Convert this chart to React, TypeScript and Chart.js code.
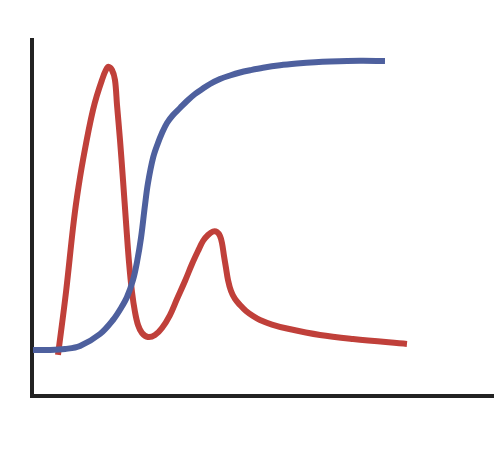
import React, { useEffect, useRef } from "react";
import { Chart, registerables } from "chart.js";

Chart.register(...registerables);

const blueX = [0.22, 3.9, 7.16, 10.41, 14.75, 17.57, 19.31, 20.61, 21.91, 22.78, 23.64, 24.51, 25.16, 26.25, 27.33, 28.2, 29.28, 30.59, 32.1, 33.62, 35.36, 37.09, 38.61, 40.78, 42.95, 45.12, 47.29, 50.11, 53.8, 57.48, 61.39, 64.64, 71.15, 76.57];
const blueY = [12.92, 12.92, 13.2, 14.04, 17.42, 21.35, 24.72, 27.81, 32.58, 37.64, 44.38, 53.65, 59.83, 66.85, 71.07, 73.88, 76.69, 78.93, 80.9, 82.87, 84.83, 86.38, 87.64, 89.04, 90.03, 90.87, 91.49, 92.19, 92.89, 93.37, 93.76, 93.96, 94.16, 94.1];

const redX = [5.64, 7.38, 8.89, 9.76, 11.06, 13.23, 15.18, 16.49, 17.35, 18.0, 18.44, 19.09, 19.74, 20.39, 21.04, 21.69, 22.34, 23.0, 23.86, 25.16, 26.68, 28.2, 29.93, 31.45, 33.19, 34.71, 36.01, 37.09, 38.18, 39.26, 40.13, 40.78, 41.21, 41.65, 42.08, 42.52, 43.17, 44.03, 45.12, 46.42, 47.94, 49.46, 52.06, 55.31, 62.47, 69.63, 81.34];
const redY = [11.52, 29.21, 47.19, 55.9, 66.29, 80.34, 88.76, 92.42, 91.57, 88.76, 81.74, 71.91, 60.67, 48.88, 37.64, 29.21, 23.6, 19.94, 17.7, 16.57, 17.13, 19.1, 22.75, 27.25, 32.3, 37.08, 40.73, 43.54, 45.22, 46.21, 46.07, 44.94, 42.98, 39.33, 35.96, 32.58, 29.49, 27.25, 25.56, 23.88, 22.47, 21.35, 20.08, 18.96, 17.13, 16.01, 14.61];

const toPoints = (xs: number[], ys: number[]) => xs.map((x, i) => ({ x, y: ys[i] }));

export default function App() {
  const ref = useRef<HTMLCanvasElement | null>(null);
  useEffect(() => {
    document.body.style.margin = "0";
    const canvas = ref.current;
    if (!canvas) return;
    const chart = new Chart(canvas, {
      type: "scatter",
      data: {
        datasets: [
          {
            data: toPoints(blueX, blueY),
            showLine: true,
            borderColor: "#4e609e",
            borderWidth: 6,
            pointRadius: 0,
            tension: 0.35,
          },
          {
            data: toPoints(redX, redY),
            showLine: true,
            borderColor: "#c0403a",
            borderWidth: 6,
            pointRadius: 0,
            tension: 0.35,
          },
        ],
      },
      options: {
        animation: false,
        responsive: false,
        devicePixelRatio: 1,
        clip: false,
        layout: { padding: { left: 32, top: 40, right: 7, bottom: 78 } },
        plugins: { legend: { display: false }, tooltip: { enabled: false } },
        scales: {
          x: {
            type: "linear",
            min: 0,
            max: 100,
            grid: { display: false, drawTicks: false },
            ticks: { display: false },
            border: { display: true, color: "#222222", width: 4 },
          },
          y: {
            type: "linear",
            min: 0,
            max: 100,
            grid: { display: false, drawTicks: false },
            ticks: { display: false },
            border: { display: true, color: "#222222", width: 4 },
          },
        },
      },
    } as any);
    return () => chart.destroy();
  }, []);
  return <canvas ref={ref} width={500} height={474} style={{ display: "block" }} />;
}
